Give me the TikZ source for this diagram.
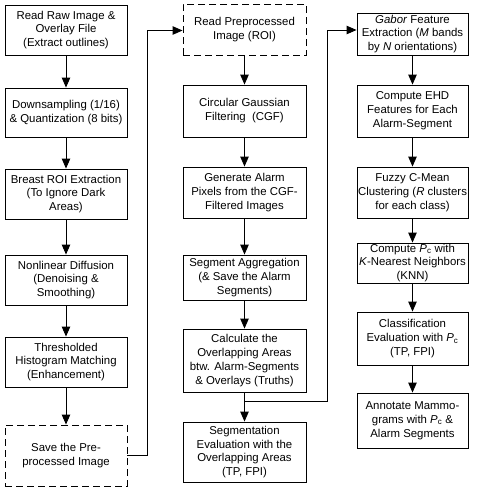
\documentclass[tikz,border=0pt]{standalone}
\usepackage{fontspec}
\setmainfont{Liberation Sans}
\usetikzlibrary{arrows.meta}
\begin{document}
\begin{tikzpicture}[x=1pt,y=-1pt,
  box/.style={draw=black, line width=0.9pt, inner sep=0pt, align=center,
    font=\fontsize{11.4}{13.9}\selectfont},
  dbox/.style={box, dash pattern=on 7pt off 4pt},
  arr/.style={line width=0.9pt, -{Triangle[length=10pt,width=8.5pt]}}]
\useasboundingbox (0,0) rectangle (485,490);
% column 1
\node[box, minimum width=122pt, minimum height=50pt] (a1) at (66,30) {Read Raw Image \&\\Overlay File\\(Extract outlines)};
\node[box, minimum width=122pt, minimum height=49pt] (a2) at (66,112.5) {Downsampling (1/16)\\\& Quantization (8 bits)};
\node[box, minimum width=122pt, minimum height=50pt] (a3) at (66,194) {Breast ROI Extraction\\(To Ignore Dark\\Areas)};
\node[box, minimum width=122pt, minimum height=50pt] (a4) at (66,280) {Nonlinear Diffusion\\(Denoising \&\\Smoothing)};
\node[box, minimum width=122pt, minimum height=50pt] (a5) at (66,362) {Thresholded\\Histogram Matching\\(Enhancement)};
\node[dbox, minimum width=122pt, minimum height=61pt] (a6) at (66,455.5) {Save the Pre-\\processed Image};
% column 2
\node[dbox, minimum width=123pt, minimum height=51pt] (b1) at (244.5,29.5) {Read Preprocessed\\Image (ROI)};
\node[box, minimum width=123pt, minimum height=52pt] (b2) at (244.5,111) {Circular Gaussian\\Filtering\ \ (CGF)};
\node[box, minimum width=123pt, minimum height=51pt] (b3) at (244.5,192.5) {Generate Alarm\\Pixels from the CGF-\\Filtered Images};
\node[box, minimum width=123pt, minimum height=45pt] (b4) at (244.5,277.5) {Segment Aggregation\\(\& Save the Alarm\\Segments)};
\node[box, minimum width=123pt, minimum height=63pt] (b5) at (244.5,360.5) {Calculate the\\Overlapping Areas\\btw. Alarm-Segments\\\& Overlays (Truths)};
\node[box, minimum width=123pt, minimum height=60pt] (b6) at (244.5,452) {Segmentation\\Evaluation with the\\Overlapping Areas\\(TP, FPI)};
% column 3
\node[box, minimum width=111pt, minimum height=42pt] (c1) at (412.5,34) {\textit{Gabor} Feature\\Extraction (\textit{M} bands\\by \textit{N} orientations)};
\node[box, minimum width=111pt, minimum height=52pt] (c2) at (412.5,111) {Compute EHD\\Features for Each\\Alarm-Segment};
\node[box, minimum width=111pt, minimum height=51pt] (c3) at (412.5,192.5) {Fuzzy C-Mean\\Clustering (\textit{R} clusters\\for each class)};
\node[box, minimum width=111pt, minimum height=40pt] (c4) at (412.5,263) {Compute \textit{P}\textsubscript{c} with\\\textit{K}-Nearest Neighbors\\(KNN)};
\node[box, minimum width=111pt, minimum height=53pt] (c5) at (412.5,338.5) {Classification\\Evaluation with \textit{P}\textsubscript{c}\\(TP, FPI)};
\node[box, minimum width=111pt, minimum height=55pt] (c6) at (412.5,420.5) {Annotate Mammo-\\grams with \textit{P}\textsubscript{c} \&\\Alarm Segments};
% vertical arrows
\foreach \p/\q in {a1/a2,a2/a3,a3/a4,a4/a5,a5/a6,b1/b2,b2/b3,b3/b4,b4/b5,b5/b6,c1/c2,c2/c3,c3/c4,c4/c5,c5/c6}
  \draw[arr] (\p) -- (\q);
% cross-column connectors
\draw[arr] (a6.east) -- ++(20,0) |- ([yshift=-1pt]b1.west);
\coordinate (j2) at ([yshift=-9pt]b5.south);
\draw[arr] (j2) -- ++(82.5,0) |- ([yshift=4pt]c1.west);
\end{tikzpicture}
\end{document}
